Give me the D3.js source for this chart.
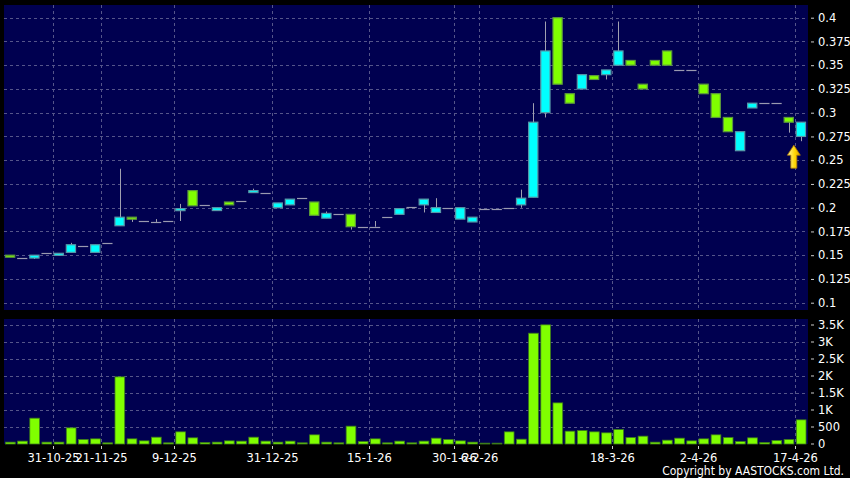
<!DOCTYPE html>
<html>
<head>
<meta charset="utf-8">
<script src="https://cdnjs.cloudflare.com/ajax/libs/d3/7.8.5/d3.min.js"></script>
<style>
  body { margin: 0; background: #000; }
  svg { display: block; }
  text { font-family: "DejaVu Sans", sans-serif; fill: #fff; }
</style>
</head>
<body>
<svg></svg>
<script>
// daily candles, oldest first
const open  = [0.150,0.147,0.147,0.152,0.150,0.153,0.160,0.153,0.163,0.181,0.190,0.186,0.185,0.186,0.197,0.218,0.203,0.197,0.206,0.207,0.216,0.215,0.200,0.203,0.210,0.206,0.189,0.193,0.193,0.180,0.180,0.190,0.193,0.201,0.203,0.195,0.200,0.188,0.185,0.199,0.199,0.200,0.203,0.211,0.300,0.400,0.320,0.325,0.339,0.340,0.350,0.355,0.330,0.355,0.365,0.345,0.345,0.330,0.320,0.295,0.260,0.305,0.310,0.310,0.295,0.275];
const high  = [0.150,0.147,0.150,0.152,0.152,0.163,0.160,0.161,0.163,0.241,0.190,0.186,0.188,0.186,0.204,0.218,0.203,0.200,0.206,0.207,0.220,0.215,0.205,0.209,0.210,0.206,0.196,0.193,0.193,0.180,0.186,0.190,0.199,0.201,0.209,0.210,0.200,0.200,0.190,0.199,0.199,0.200,0.219,0.310,0.396,0.400,0.320,0.340,0.339,0.345,0.396,0.355,0.330,0.355,0.365,0.345,0.345,0.330,0.320,0.295,0.280,0.310,0.310,0.310,0.295,0.290];
const low   = [0.148,0.147,0.146,0.152,0.150,0.153,0.160,0.153,0.163,0.181,0.185,0.186,0.185,0.186,0.186,0.202,0.203,0.197,0.203,0.207,0.216,0.215,0.200,0.203,0.210,0.192,0.189,0.193,0.177,0.180,0.180,0.190,0.193,0.201,0.195,0.195,0.200,0.188,0.185,0.199,0.199,0.200,0.200,0.211,0.295,0.330,0.310,0.325,0.335,0.335,0.350,0.350,0.325,0.350,0.350,0.345,0.345,0.320,0.295,0.280,0.260,0.305,0.310,0.310,0.279,0.270];
const close = [0.148,0.147,0.150,0.152,0.152,0.161,0.160,0.161,0.163,0.190,0.188,0.186,0.185,0.186,0.199,0.202,0.203,0.200,0.203,0.207,0.218,0.215,0.205,0.209,0.210,0.192,0.194,0.193,0.180,0.180,0.180,0.190,0.199,0.201,0.209,0.200,0.200,0.200,0.190,0.199,0.199,0.200,0.210,0.290,0.365,0.330,0.310,0.340,0.335,0.345,0.365,0.350,0.325,0.350,0.350,0.345,0.345,0.320,0.295,0.280,0.280,0.310,0.310,0.310,0.290,0.290];
const volume = [40,70,745,40,40,460,118,137,20,1960,137,78,186,20,343,167,29,40,78,70,186,70,40,70,20,255,40,20,510,59,137,20,70,20,70,157,118,78,40,10,10,343,127,3244,3490,1195,363,382,343,314,412,176,216,39,98,157,78,137,255,176,59,167,29,88,118,696];

// x axis labels sit on the gap after these candles
const tickIndex  = [3, 7, 13, 21, 29, 36, 38, 49, 56, 64];
const tickLabels = ["31-10-25","21-11-25","9-12-25","31-12-25","15-1-26","30-1-26","6-2-26","18-3-26","2-4-26","17-4-26"];

const priceTicks = [0.1,0.125,0.15,0.175,0.2,0.225,0.25,0.275,0.3,0.325,0.35,0.375,0.4];
const volTicks = [0,500,1000,1500,2000,2500,3000,3500];

const width = 850, height = 478;
const left = 4, right = 808;
const pTop = 5, pBottom = 310, vTop = 319, vBottom = 444;

const svg = d3.select("svg").attr("width", width).attr("height", height);
svg.append("rect").attr("width", width).attr("height", height).attr("fill", "#000");

const x = d3.scaleBand()
  .domain(d3.range(open.length))
  .range([left, 807])
  .paddingInner(0.16)
  .paddingOuter(0.08);
const bw = x.bandwidth();
const cx = i => x(i) + bw / 2;
const gapX = i => x(i) + bw / 2 + x.step() / 2;

const y = d3.scaleLinear().domain([0.1, 0.4]).range([302.7, 17.7]);
const yv = d3.scaleLinear().domain([0, 3500]).range([443.5, 324.5]);

const bg = "#000050", grid = "#55558a";

// panels
svg.append("rect").attr("x", left).attr("y", pTop).attr("width", right - left).attr("height", pBottom - pTop).attr("fill", bg);
svg.append("rect").attr("x", left).attr("y", vTop).attr("width", right - left).attr("height", vBottom - vTop).attr("fill", bg);

// horizontal grids
svg.append("g").selectAll("line").data(priceTicks).enter().append("line")
  .attr("x1", left).attr("x2", right)
  .attr("y1", d => Math.round(y(d)) + 0.5).attr("y2", d => Math.round(y(d)) + 0.5)
  .attr("stroke", grid).attr("stroke-dasharray", "3,3");
svg.append("g").selectAll("line").data(volTicks.slice(1)).enter().append("line")
  .attr("x1", left).attr("x2", right)
  .attr("y1", d => Math.round(yv(d)) + 0.5).attr("y2", d => Math.round(yv(d)) + 0.5)
  .attr("stroke", grid).attr("stroke-dasharray", "3,3");

// vertical grids through both panels
tickIndex.forEach(i => {
  const gx = Math.round(gapX(i)) + 0.5;
  [[pTop, pBottom], [vTop, vBottom]].forEach(([a, b]) => {
    svg.append("line").attr("x1", gx).attr("x2", gx).attr("y1", a).attr("y2", b)
      .attr("stroke", grid).attr("stroke-dasharray", "3,3");
  });
});

// right axes
const yAxis = svg.append("g").attr("transform", `translate(${right + 3},0)`)
  .call(d3.axisRight(y).tickValues(priceTicks).tickSize(3).tickPadding(4).tickFormat(d3.format("")));
const vAxis = svg.append("g").attr("transform", `translate(${right + 3},0)`)
  .call(d3.axisRight(yv).tickValues(volTicks).tickSize(3).tickPadding(4)
    .tickFormat(d => d >= 1000 ? (d / 1000) + "K" : d));
[yAxis, vAxis].forEach(g => {
  g.select(".domain").remove();
  g.selectAll(".tick line").attr("stroke", "#ccc");
  g.selectAll(".tick text").attr("fill", "#fff").style("font-size", "11.5px").style("font-family", "DejaVu Sans");
});

// bottom axis
const xAxis = svg.append("g").attr("transform", `translate(0,${vBottom + 2})`);
tickIndex.forEach((i, k) => {
  const gx = Math.round(gapX(i)) + 0.5;
  xAxis.append("line").attr("x1", gx).attr("x2", gx).attr("y1", 0).attr("y2", 3).attr("stroke", "#ccc");
  xAxis.append("text").attr("x", gx).attr("y", 16).attr("text-anchor", "middle")
    .style("font-size", "11.5px").text(tickLabels[k]);
});

// wicks
const candles = d3.range(open.length);
svg.append("g").selectAll("line").data(candles.filter(i => high[i] > low[i])).enter().append("line")
  .attr("x1", i => Math.round(cx(i)) + 0.5).attr("x2", i => Math.round(cx(i)) + 0.5)
  .attr("y1", i => y(high[i])).attr("y2", i => y(low[i]))
  .attr("stroke", "#a0a0b0");

// doji dashes
svg.append("g").selectAll("line").data(candles.filter(i => open[i] === close[i])).enter().append("line")
  .attr("x1", i => x(i)).attr("x2", i => x(i) + bw)
  .attr("y1", i => Math.round(y(close[i])) + 0.5).attr("y2", i => Math.round(y(close[i])) + 0.5)
  .attr("stroke", "#9a9ab0").attr("stroke-width", 1.2);

// bodies: cyan rising, green falling
svg.append("g").selectAll("rect").data(candles.filter(i => open[i] !== close[i])).enter().append("rect")
  .attr("x", i => x(i) + 0.5)
  .attr("y", i => y(Math.max(open[i], close[i])))
  .attr("width", bw - 1)
  .attr("height", i => Math.max(2, Math.abs(y(open[i]) - y(close[i]))))
  .attr("fill", i => close[i] > open[i] ? "#00ffff" : "#80ff00")
  .attr("stroke", i => close[i] > open[i] ? "#5898a8" : "#5c9a3c")
  .attr("stroke-width", 1.2);

// volume bars
svg.append("g").selectAll("rect").data(candles).enter().append("rect")
  .attr("x", i => x(i) + 0.5)
  .attr("y", i => yv(volume[i]))
  .attr("width", bw - 0.5)
  .attr("height", i => vBottom - yv(volume[i]))
  .attr("fill", "#80ff00")
  .attr("stroke", "#3c7a1c")
  .attr("stroke-width", 0.8);

// yellow marker under the latest candle
const defs = svg.append("defs");
const grad = defs.append("linearGradient").attr("id", "arrowGrad").attr("x1", 0).attr("x2", 1).attr("y1", 0).attr("y2", 0);
grad.append("stop").attr("offset", "0%").attr("stop-color", "#fff6a0");
grad.append("stop").attr("offset", "60%").attr("stop-color", "#ffd400");
grad.append("stop").attr("offset", "100%").attr("stop-color", "#d89a00");
const last = open.length - 1;
const ax = gapX(last - 1) - 1, ay = y(low[last]) + 4;
svg.append("path")
  .attr("d", `M${ax},${ay} L${ax + 6.5},${ay + 10} L${ax + 3},${ay + 10} L${ax + 3},${ay + 23} L${ax - 3},${ay + 23} L${ax - 3},${ay + 10} L${ax - 6.5},${ay + 10} Z`)
  .attr("fill", "url(#arrowGrad)")
  .attr("stroke", "#b07a00").attr("stroke-width", 0.8);

svg.append("text").attr("x", 844).attr("y", 474.5).attr("text-anchor", "end")
  .style("font-family", "DejaVu Sans Condensed").style("font-size", "12px")
  .text("Copyright by AASTOCKS.com Ltd.");
</script>
</body>
</html>
